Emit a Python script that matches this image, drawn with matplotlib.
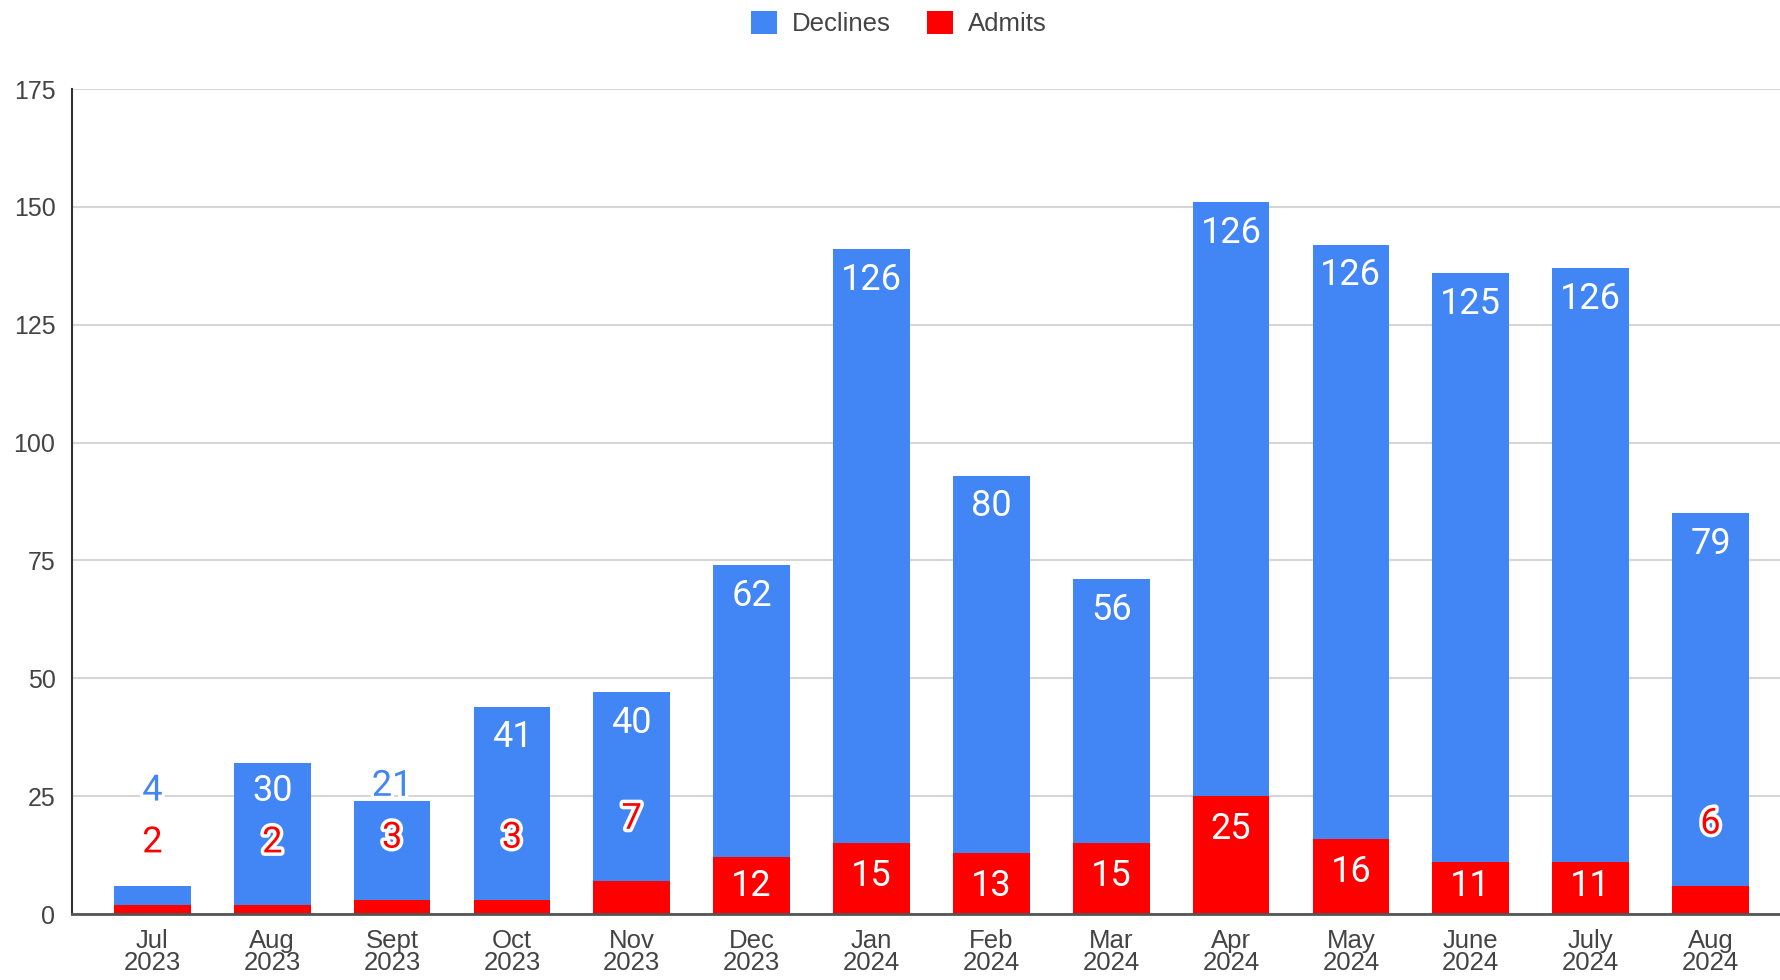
import matplotlib

matplotlib.use("Agg")
import matplotlib.pyplot as plt
import matplotlib.patheffects as pe
from matplotlib.patches import Patch


months = ["Jul\n2023", "Aug\n2023", "Sept\n2023", "Oct\n2023", "Nov\n2023", "Dec\n2023",
          "Jan\n2024", "Feb\n2024", "Mar\n2024", "Apr\n2024", "May\n2024", "June\n2024",
          "July\n2024", "Aug\n2024"]
admits = [2, 2, 3, 3, 7, 12, 15, 13, 15, 25, 16, 11, 11, 6]
declines = [4, 30, 21, 41, 40, 62, 126, 80, 56, 126, 126, 125, 126, 79]

BLUE = "#4285F4"
RED = "#FF0000"
TEXT = "#444444"


def main():
    fig = plt.figure(figsize=(17.8, 9.8), dpi=100)
    ax = fig.add_axes([0.0405, 0.0673, 0.9595, 0.8418])

    x = list(range(len(months)))
    ax.bar(x, admits, width=0.64, color=RED, zorder=3)
    ax.bar(x, declines, width=0.64, bottom=admits, color=BLUE, zorder=3)

    ax.set_ylim(0, 175)
    ax.set_xlim(-0.67, len(months) - 0.42)
    ax.set_yticks(range(0, 176, 25))
    ax.set_xticks(x)
    ax.set_xticklabels(months, linespacing=0.88)
    ax.tick_params(axis="both", length=0, labelsize=18, labelcolor=TEXT)
    ax.tick_params(axis="x", labelsize=18.5)
    ax.tick_params(axis="y", pad=12)
    ax.tick_params(axis="x", pad=11)
    for lbl in ax.get_xticklabels() + ax.get_yticklabels():
        lbl.set_fontfamily("Liberation Sans")

    ax.grid(axis="y", color="#d6d6d6", linewidth=1.5, zorder=0)
    for side in ("top", "right"):
        ax.spines[side].set_visible(False)
    ax.spines["left"].set_color("#333333")
    ax.spines["left"].set_linewidth(1.5)
    ax.spines["bottom"].set_color("#555555")
    ax.spines["bottom"].set_linewidth(2)
    ax.spines["bottom"].set_zorder(4)

    outline = [pe.withStroke(linewidth=5, foreground="white")]
    lbl_kw = dict(ha="center", va="center", fontsize=26, family="Roboto", zorder=5)

    for i, (a, d) in enumerate(zip(admits, declines)):
        top = a + d
        # admits label: inside near the top, or above the segment when it is too short
        if a >= 10:
            ya = max(a - 7, 6)
            ax.text(i, ya, str(a), color="white", **lbl_kw)
            a_label = None
        else:
            ya = a + 13.2
            ax.text(i, ya, str(a), color=RED, path_effects=outline, **lbl_kw)
            a_label = ya
        # declines label, pushed up if it would hit the admits label
        yd = top - 6.5
        if a_label is not None and yd < a_label + 11:
            yd = a_label + 11
        if yd > top - 5:
            ax.text(i, yd, str(d), color=BLUE, path_effects=outline, **lbl_kw)
        else:
            ax.text(i, yd, str(d), color="white", **lbl_kw)

    handles = [Patch(facecolor=BLUE, label="Declines"), Patch(facecolor=RED, label="Admits")]
    leg = fig.legend(handles=handles, loc="center", bbox_to_anchor=(0.505, 0.976), ncol=2,
                     frameon=False, handlelength=1.0, handleheight=1.0, handletextpad=0.6,
                     columnspacing=1.4, prop={"family": "Liberation Sans", "size": 18.5})
    for t in leg.get_texts():
        t.set_color(TEXT)

    fig.savefig("out.png", dpi=100)
    plt.close(fig)


if __name__ == "__main__":
    main()
